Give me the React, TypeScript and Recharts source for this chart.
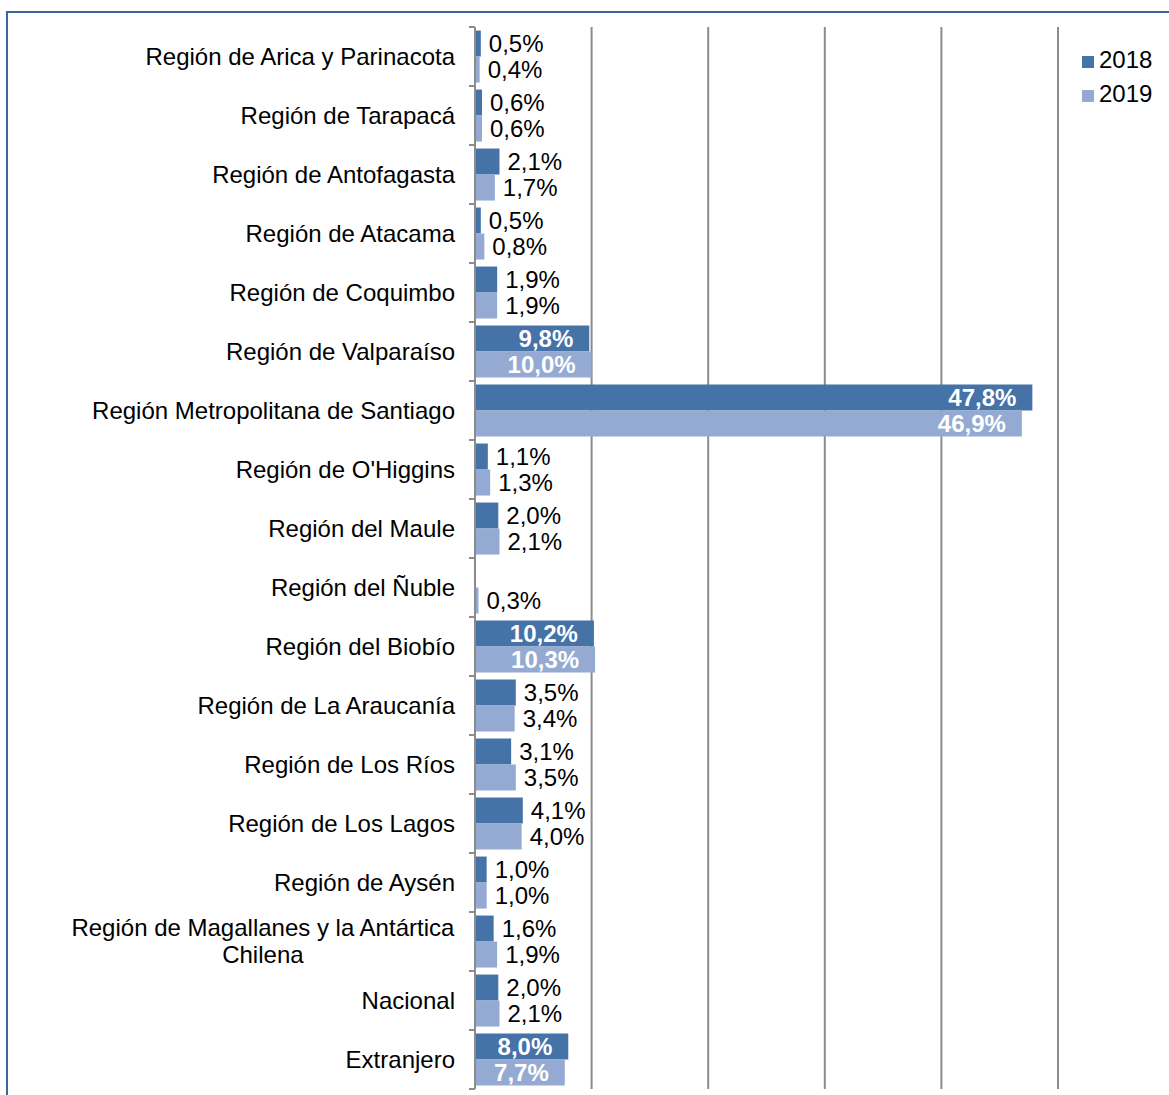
import React from "react";
import { BarChart, Bar, XAxis, YAxis, CartesianGrid, LabelList } from "recharts";

const FONT = "'Liberation Sans', Arial, sans-serif";
const FS = 24;
const W = 1169;
const H = 1095;

const categories = [
  "Región de Arica y Parinacota",
  "Región de Tarapacá",
  "Región de Antofagasta",
  "Región de Atacama",
  "Región de Coquimbo",
  "Región de Valparaíso",
  "Región Metropolitana de Santiago",
  "Región de O'Higgins",
  "Región del Maule",
  "Región del Ñuble",
  "Región del Biobío",
  "Región de La Araucanía",
  "Región de Los Ríos",
  "Región de Los Lagos",
  "Región de Aysén",
  "Región de Magallanes y la Antártica Chilena",
  "Nacional",
  "Extranjero",
];

const v2018: (number | null)[] = [0.5, 0.6, 2.1, 0.5, 1.9, 9.8, 47.8, 1.1, 2.0, null, 10.2, 3.5, 3.1, 4.1, 1.0, 1.6, 2.0, 8.0];
const v2019: (number | null)[] = [0.4, 0.6, 1.7, 0.8, 1.9, 10.0, 46.9, 1.3, 2.1, 0.3, 10.3, 3.4, 3.5, 4.0, 1.0, 1.9, 2.1, 7.7];

const seriesNames = ["2018", "2019"];
const seriesColors = ["#4572A7", "#94AAD2"];
const xTicks = [0, 10, 20, 30, 40, 50];

const rows = categories.map((name, i) => ({ name, y2018: v2018[i], y2019: v2019[i] }));

const fmt = (v: number) => v.toFixed(1).replace(".", ",") + "%";

let ctx: CanvasRenderingContext2D | null = null;
function textWidth(s: string) {
  if (!ctx) ctx = document.createElement("canvas").getContext("2d");
  if (!ctx) return s.length * FS * 0.5;
  ctx.font = `${FS}px ${FONT}`;
  return ctx.measureText(s).width;
}

function wrap(s: string, max: number): string[] {
  if (textWidth(s) <= max) return [s];
  const words = s.split(" ");
  const lines: string[] = [];
  let cur = "";
  for (const w of words) {
    const next = cur ? cur + " " + w : w;
    if (cur && textWidth(next) > max) {
      lines.push(cur);
      cur = w;
    } else cur = next;
  }
  if (cur) lines.push(cur);
  return lines;
}

function CatTick(props: any) {
  const { x, y, payload, index } = props;
  const half = payload?.offset || 29.5;
  const lines = wrap(String(payload.value), 400);
  const widths = lines.map(textWidth);
  const maxW = Math.max(...widths);
  const right = x - 20;
  const cx = right - maxW / 2;
  return (
    <g>
      <line x1={x - 6} x2={x} y1={y - half} y2={y - half} stroke="#8c8c8c" strokeWidth={2} />
      {index === categories.length - 1 && (
        <line x1={x - 6} x2={x} y1={y + half} y2={y + half} stroke="#8c8c8c" strokeWidth={2} />
      )}
      {lines.map((l, i) => (
        <text
          key={i}
          x={lines.length > 1 ? cx : right}
          y={y + (i - (lines.length - 1) / 2) * 27}
          dy="0.35em"
          textAnchor={lines.length > 1 ? "middle" : "end"}
          fontSize={FS}
          fontFamily={FONT}
          fill="#000"
        >
          {l}
        </text>
      ))}
    </g>
  );
}

function renderLabel(props: any) {
  const { value } = props;
  if (value == null) return null;
  const x = Number(props.x);
  const y = Number(props.y);
  const width = Number(props.width);
  const height = Number(props.height);
  const inside = value >= 7;
  return (
    <text
      x={inside ? x + width - 16 : x + width + 8}
      y={y + height / 2}
      dy="0.36em"
      textAnchor={inside ? "end" : "start"}
      fill={inside ? "#fff" : "#000"}
      fontWeight={inside ? "bold" : "normal"}
      fontSize={FS}
      fontFamily={FONT}
    >
      {fmt(value)}
    </text>
  );
}

export default function App() {
  return (
    <div
      style={{
        position: "absolute",
        left: 0,
        top: 0,
        width: W,
        height: H,
        background: "#fff",
        overflow: "hidden",
        fontFamily: FONT,
      }}
    >
      <div
        style={{
          position: "absolute",
          left: 6,
          top: 11,
          width: W,
          height: H,
          borderTop: "2px solid #3D669A",
          borderLeft: "2px solid #3D669A",
        }}
      />
      <BarChart
        width={W}
        height={H}
        data={rows}
        layout="vertical"
        margin={{ top: 27, right: 111, bottom: 6, left: 0 }}
        barCategoryGap="6%"
        barGap={0}
        style={{ position: "absolute", left: 0, top: 0 }}
      >
        <CartesianGrid horizontal={false} vertical stroke="#8c8c8c" strokeWidth={2} />
        <XAxis type="number" domain={[0, 50]} ticks={xTicks} hide />
        <YAxis
          type="category"
          dataKey="name"
          width={475}
          interval={0}
          axisLine={{ stroke: "#8c8c8c", strokeWidth: 2 }}
          tickLine={false}
          tickSize={0}
          tickMargin={0}
          tick={<CatTick />}
        />
        <Bar dataKey="y2018" name={seriesNames[0]} fill={seriesColors[0]} isAnimationActive={false}>
          <LabelList dataKey="y2018" content={renderLabel} />
        </Bar>
        <Bar dataKey="y2019" name={seriesNames[1]} fill={seriesColors[1]} isAnimationActive={false}>
          <LabelList dataKey="y2019" content={renderLabel} />
        </Bar>
      </BarChart>
      {seriesNames.map((s, i) => (
        <div
          key={s}
          style={{
            position: "absolute",
            left: 1082,
            top: 48 + i * 34,
            height: 24,
            display: "flex",
            alignItems: "center",
            fontSize: FS,
            lineHeight: "24px",
            color: "#000",
          }}
        >
          <span style={{ width: 12, height: 12, background: seriesColors[i], marginRight: 5, marginTop: 4 }} />
          <span>{s}</span>
        </div>
      ))}
    </div>
  );
}
